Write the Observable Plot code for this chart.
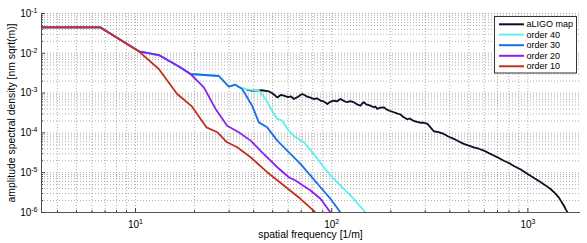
<!DOCTYPE html>
<html>
<head>
<meta charset="utf-8">
<script src="https://cdn.jsdelivr.net/npm/d3@7"></script>
<script src="https://cdn.jsdelivr.net/npm/@observablehq/plot@0.6"></script>
<style>
  html, body { margin: 0; padding: 0; background: #fff; }
  svg { display: block; }
</style>
</head>
<body>
<div id="chart"></div>
<script>
// ---- data (spatial frequency [1/m], amplitude spectral density) ----
const seriesNames = ["aLIGO map", "order 40", "order 30", "order 20", "order 10"];
const seriesColors = ["#0c1024", "#5ef0f0", "#1a6fe6", "#8a22f0", "#c0321e"];

const aligoMap = [
  [37.1,0.00120],[39.0,0.00116],[41.7,0.00115],[44.0,0.00118],[47.8,0.00111],[50.0,0.00098],
  [52.8,0.00078],[55.0,0.00090],[57.0,0.00086],[60.0,0.00079],[62.0,0.00083],[64.1,0.00071],
  [67.0,0.00080],[70.7,0.00095],[73.0,0.00088],[75.0,0.00081],[78.0,0.00077],[81.0,0.00071],
  [84.0,0.00074],[87.7,0.00065],[91.0,0.00062],[94.9,0.00053],[98.0,0.00060],[102.5,0.00065],
  [106.0,0.00062],[110.9,0.00071],[115.0,0.00064],[120.0,0.00059],[124.0,0.00063],[129.6,0.00059],
  [135.0,0.00052],[140.2,0.00048],[143.0,0.00055],[145.7,0.00059],[150.0,0.00052],[156.0,0.00049],
  [163.9,0.00044],[167.0,0.00046],[170.6,0.00040],[177.0,0.00043],[184.3,0.00044],[190.0,0.00039],
  [197.0,0.00036],[207.3,0.00033],[215.0,0.00031],[224.2,0.00029],[232.0,0.00025],[242.6,0.00022],
  [250.0,0.00023],[262.0,0.00020],[272.0,0.00019],[283.5,0.00018],[295.0,0.00018],[306.7,0.00017],
  [318.0,0.00014],[331.5,0.00011],[350.0,0.000105],[372.7,9.4e-5],[395.0,8.0e-5],[419.2,7.1e-5],
  [445.0,6.1e-5],[471.3,5.3e-5],[500.0,4.8e-5],[530.0,4.35e-5],[562.0,4.0e-5],[596.0,3.6e-5],
  [632.0,3.1e-5],[670.0,2.7e-5],[710.0,2.35e-5],[754.0,2.0e-5],[800.0,1.75e-5],[848.0,1.47e-5],
  [920.0,1.2e-5],[992.0,9.4e-6],[1070.0,7.5e-6],[1159.0,5.8e-6],[1230.0,4.8e-6],[1304.0,3.9e-6],
  [1370.0,3.1e-6],[1437.0,2.4e-6],[1480.0,1.9e-6],[1524.0,1.5e-6],[1560.0,1.2e-6],[1597.0,9.8e-7]
];

const order40 = [
  [3.32,0.0446],[6.63,0.0446],[10.4,0.0112],[13.15,0.00904],[16.96,0.00442],[19.07,0.00302],
  [26.6,0.00269],[29.9,0.00145],[32.3,0.00163],[33.5,0.00141],[37.7,0.00122],[42.5,0.00115],
  [46.0,0.000711],[49.7,0.000362],[52.8,0.000224],[55.9,0.000203],[60.4,0.000114],[65.4,7.74e-5],
  [72.1,5.81e-5],[81.0,2.97e-5],[91.1,1.37e-5],[102.5,7.0e-6],[115.3,3.94e-6],[129.6,2.21e-6],
  [148.7,1.0e-6]
];

const order30 = [
  [3.32,0.0446],[6.63,0.0446],[10.4,0.0112],[13.15,0.00904],[16.96,0.00442],[19.07,0.00302],
  [26.6,0.00269],[29.9,0.00145],[32.3,0.00163],[35.0,0.00127],[39.3,0.000483],[42.5,0.000184],
  [46.9,0.000138],[52.8,6.40e-5],[59.3,3.59e-5],[69.3,1.67e-5],[78.0,8.47e-6],[87.7,4.31e-6],
  [98.6,2.21e-6],[110.9,1.0e-6]
];

const order20 = [
  [3.32,0.0446],[6.63,0.0446],[10.4,0.0112],[13.15,0.00904],[16.96,0.00442],[19.07,0.00302],
  [22.3,0.00139],[25.6,0.000400],[29.3,0.000152],[33.6,1.04e-4],[38.6,6.40e-5],[44.2,3.26e-5],
  [52.8,1.37e-5],[60.4,7.69e-6],[65.4,6.35e-6],[78.0,3.56e-6],[87.7,2.21e-6],[98.6,1.0e-6]
];

const order10 = [
  [3.32,0.0446],[6.63,0.0446],[10.4,0.0112],[13.15,0.00403],[16.3,0.000951],[19.45,0.000456],
  [21.3,0.000238],[23.0,0.000138],[26.1,1.04e-4],[29.3,5.81e-5],[33.0,4.35e-5],[38.6,2.44e-5],
  [46.9,1.03e-5],[57.0,4.75e-6],[69.3,2.21e-6],[82.7,1.0e-6]
];

// ---- axes ----
const xDomain = [3.318, 1854];
const yDomain = [1e-6, 1e-1];
const xMajorTicks = [10, 100, 1000];
const xMinorTicks = [4,5,6,7,8,9,20,30,40,50,60,70,80,90,200,300,400,500,600,700,800,900];
const yMajorTicks = [1e-6, 1e-5, 1e-4, 1e-3, 1e-2, 1e-1];
const yMinorTicks = [
  2e-6,3e-6,4e-6,5e-6,6e-6,7e-6,8e-6,9e-6,
  2e-5,3e-5,4e-5,5e-5,6e-5,7e-5,8e-5,9e-5,
  2e-4,3e-4,4e-4,5e-4,6e-4,7e-4,8e-4,9e-4,
  2e-3,3e-3,4e-3,5e-3,6e-3,7e-3,8e-3,9e-3,
  2e-2,3e-2,4e-2,5e-2,6e-2,7e-2,8e-2,9e-2
];
const xLabel = "spatial frequency [1/m]";
const yLabel = "amplitude spectral density [nm sqrt(m)]";

const allSeries = [aligoMap, order40, order30, order20, order10];
const rows = [];
allSeries.forEach((s, i) => s.forEach(([f, a]) => rows.push({series: seriesNames[i], f, a})));

const expFmt = d => "10|" + Math.round(Math.log10(d));
const gridStyle = {stroke: "#8a8a8a", strokeWidth: 0.8, strokeDasharray: "1,2", strokeOpacity: 0.85};

const chart = Plot.plot({
  width: 587,
  height: 243,
  marginLeft: 41,
  marginRight: 7,
  marginTop: 13,
  marginBottom: 31,
  style: {fontFamily: "'Liberation Sans', Arial, sans-serif", fontSize: "10px", color: "#000", background: "#fff"},
  x: {type: "log", domain: xDomain},
  y: {type: "log", domain: yDomain},
  color: {domain: seriesNames, range: seriesColors},
  marks: [
    Plot.ruleX([...xMinorTicks, ...xMajorTicks], gridStyle),
    Plot.ruleY([...yMinorTicks, ...yMajorTicks.slice(1)], gridStyle),
    Plot.line(rows, {x: "f", y: "a", z: "series", stroke: "series", strokeWidth: 1.8, clip: true}),
    Plot.ruleY([yDomain[0]], {stroke: "#555", strokeWidth: 1}),
    Plot.ruleX([xDomain[0]], {stroke: "#555", strokeWidth: 1}),
    Plot.axisX(xMajorTicks, {tickSize: -4, tickFormat: () => "", stroke: "#444", label: null}),
    Plot.axisX(xMinorTicks, {tickSize: -2, tickFormat: () => "", stroke: "#444", label: null}),
    Plot.axisX(xMajorTicks, {tickSize: 0, tickPadding: 8, tickFormat: expFmt, label: null, fontSize: 10}),
    Plot.axisY(yMajorTicks, {tickSize: -4, tickFormat: () => "", stroke: "#444", label: null}),
    Plot.axisY(yMinorTicks, {tickSize: -2, tickFormat: () => "", stroke: "#444", label: null}),
    Plot.axisY(yMajorTicks, {tickSize: 0, tickPadding: 4, tickFormat: expFmt, label: null, fontSize: 10})
  ]
});

document.getElementById("chart").appendChild(chart);

const svg = d3.select(chart);

// superscript exponents on tick labels
svg.selectAll("text").each(function() {
  const t = d3.select(this);
  const s = t.text();
  if (s.startsWith("10|")) {
    const e = s.split("|")[1];
    t.text("10");
    t.append("tspan").attr("dy", "-0.55em").attr("font-size", "7px").text(e);
  }
});

// axis titles
svg.append("text")
  .attr("x", 310.5).attr("y", 238)
  .attr("text-anchor", "middle")
  .attr("font-family", "'Liberation Sans', Arial, sans-serif")
  .attr("font-size", "10.4px").attr("fill", "#000")
  .text(xLabel);

svg.append("text")
  .attr("transform", "translate(15,113) rotate(-90)")
  .attr("text-anchor", "middle")
  .attr("font-family", "'Liberation Sans', Arial, sans-serif")
  .attr("font-size", "10.4px").attr("fill", "#000")
  .text(yLabel);

// legend
const lg = svg.append("g")
  .attr("font-family", "'Liberation Sans', Arial, sans-serif")
  .attr("font-size", "9px")
  .attr("text-anchor", "start");
lg.append("rect").attr("x", 494.5).attr("y", 16.5).attr("width", 82).attr("height", 56.5)
  .attr("fill", "#fff").attr("stroke", "#333").attr("stroke-width", 1);
const rowY = [24.3, 34.6, 45.2, 55.8, 66.3];
seriesNames.forEach((name, i) => {
  lg.append("line").attr("x1", 499).attr("x2", 524).attr("y1", rowY[i]).attr("y2", rowY[i])
    .attr("stroke", seriesColors[i]).attr("stroke-width", 2);
  lg.append("text").attr("x", 526.5).attr("y", rowY[i]).attr("dy", "0.35em")
    .attr("text-anchor", "start").attr("fill", "#000").text(name);
});
</script>
</body>
</html>
